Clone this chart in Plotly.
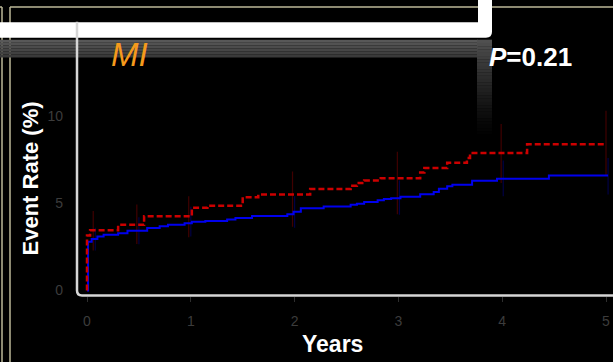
import plotly.graph_objects as go

W, H = 613, 362

# Kaplan-Meier style cumulative event rates (%), step times in years
red_t = [0, 0.0, 0.03, 0.30, 0.55, 1.01, 1.16, 1.50, 1.65, 2.15, 2.54, 2.60, 2.67,
         2.83, 3.21, 3.25, 3.47, 3.66, 3.69, 4.24, 5.0]
red_y = [0, 3.15, 3.46, 3.77, 4.26, 4.75, 4.86, 5.35, 5.50, 5.82, 6.01, 6.16, 6.31,
         6.44, 6.76, 7.02, 7.32, 7.59, 7.88, 8.38, 8.38]

blue_t = [0, 0.01, 0.045, 0.10, 0.16, 0.30, 0.39, 0.58, 0.70, 0.78, 0.94, 1.01, 1.14,
          1.35, 1.43, 1.59, 1.93, 1.99, 2.06, 2.28, 2.54, 2.60, 2.67, 2.80, 2.86,
          2.93, 3.02, 3.21, 3.34, 3.39, 3.47, 3.52, 3.71, 3.95, 4.45, 5.02]
blue_y = [0, 2.80, 2.96, 3.10, 3.20, 3.28, 3.43, 3.58, 3.69, 3.77, 3.86, 3.95, 3.99,
          4.07, 4.16, 4.27, 4.37, 4.52, 4.71, 4.82, 4.92, 4.97, 5.07, 5.18, 5.24,
          5.29, 5.38, 5.52, 5.65, 5.84, 5.97, 6.06, 6.29, 6.40, 6.59, 6.59]

# 95% confidence limits at yearly landmarks
red_ci_t = [0.06, 0.48, 0.98, 1.98, 2.99, 3.99, 5.0]
red_ci_lo = [2.30, 2.67, 3.05, 3.65, 4.37, 6.16, 6.60]
red_ci_hi = [4.56, 4.93, 5.40, 6.82, 7.95, 9.55, 10.3]

blue_ci_t = [0.08, 0.50, 1.00, 2.00, 3.01, 4.01, 5.02]
blue_ci_lo = [2.30, 2.65, 3.10, 3.60, 4.35, 5.40, 5.50]
blue_ci_hi = [3.60, 4.20, 4.80, 5.40, 6.30, 7.45, 7.60]

x_ticks = [0, 1, 2, 3, 4, 5]
y_ticks = [0, 5, 10]


def px(x):
    return x / W


def py(y):
    return 1 - y / H


fig = go.Figure()

# confidence bars
for t, lo, hi, col in [(red_ci_t, red_ci_lo, red_ci_hi, "#400000"),
                       (blue_ci_t, blue_ci_lo, blue_ci_hi, "#000044")]:
    fig.add_trace(go.Scatter(
        x=t, y=lo, mode="markers", marker=dict(size=1, opacity=0),
        error_y=dict(type="data", symmetric=False,
                     array=[h - l for h, l in zip(hi, lo)],
                     arrayminus=[0] * len(lo), thickness=1.2, width=0, color=col),
        hoverinfo="skip", showlegend=False))

fig.add_trace(go.Scatter(x=blue_t, y=blue_y, mode="lines", line_shape="hv",
                         line=dict(color="#0000ee", width=2), showlegend=False))
fig.add_trace(go.Scatter(x=red_t, y=red_y, mode="lines", line_shape="hv",
                         line=dict(color="#cc0000", width=2.5, dash="6px,3px"),
                         showlegend=False))

# axis geometry in pixels
x0_px, ppx = 87.0, 103.8
y0_px, ppy = 293.0, 17.6
left_px, bottom_px, top_px = 78, 298, 22

beige = "#bcb899"
P = dict(xref="paper", yref="paper")
shapes = [
    # slide frame lines
    dict(type="line", x0=px(2), x1=px(2), y0=py(7), y1=py(H + 5), line=dict(color=beige, width=1.5), **P),
    dict(type="line", x0=px(10), x1=px(10), y0=py(7), y1=py(H + 5), line=dict(color=beige, width=1.5), **P),
    dict(type="line", x0=px(10), x1=px(W), y0=py(7), y1=py(7), line=dict(color=beige, width=1.5), **P),
    dict(type="line", x0=px(0), x1=px(2), y0=py(7), y1=py(7), line=dict(color=beige, width=1.5), **P),
]
# grey header band, lighter at the top
for i in range(6):
    shade = int(88 - i * 6)
    shapes.append(dict(type="rect", x0=px(0), x1=px(478), y0=py(40 + i * 3), y1=py(43 + i * 3),
                       line_width=0, fillcolor=f"rgb({shade},{shade},{shade})", **P))
# fading grey side band
steps = 30
for i in range(steps):
    shade = int(80 * (1 - i / steps) ** 1.3)
    shapes.append(dict(type="rect", x0=px(477), x1=px(492), y0=py(40 + i * 3.3), y1=py(43.5 + i * 3.3),
                       line_width=0, fillcolor=f"rgb({shade},{shade},{shade})", **P))
# white header bar with rounded corner
path = (f"M {px(0)},{py(22.5)} L {px(478)},{py(22.5)} L {px(478)},{py(-2)} L {px(492)},{py(-2)} "
        f"L {px(492)},{py(32)} Q {px(492)},{py(38)} {px(486)},{py(38)} L {px(0)},{py(38)} Z")
shapes.append(dict(type="path", path=path, fillcolor="white", line_width=0, **P))
# plot frame (left + bottom)
frame = (f"M {px(77)},{py(22)} L {px(77)},{py(293)} Q {px(77)},{py(298)} {px(82)},{py(298)} "
         f"L {px(W + 5)},{py(298)}")
shapes.append(dict(type="path", path=frame, line=dict(color="#d6d6d6", width=2.5), **P))

annotations = [
    dict(text="MI", x=px(129), y=py(55), xref="paper", yref="paper", showarrow=False,
         font=dict(family="Arial, Liberation Sans", size=33, color="#f59a1c", style="italic"),
         xanchor="center", yanchor="middle"),
    dict(text="<b><i>P</i>=0.21</b>", x=px(530), y=py(57.5), xref="paper", yref="paper", showarrow=False,
         font=dict(family="Arial, Liberation Sans", size=26, color="white"),
         xanchor="center", yanchor="middle"),
    dict(text="<b>Event Rate (%)</b>", x=px(31), y=py(180), xref="paper", yref="paper", showarrow=False,
         textangle=-90, font=dict(family="Arial, Liberation Sans", size=22, color="white"),
         xanchor="center", yanchor="middle"),
    dict(text="<b>Years</b>", x=px(332), y=py(347), xref="paper", yref="paper", showarrow=False,
         font=dict(family="Arial, Liberation Sans", size=23, color="white"),
         xanchor="center", yanchor="middle"),
]

tickfont = dict(family="Arial, Liberation Sans", size=14, color="#3c3c3c")

fig.update_layout(
    width=W, height=H,
    margin=dict(l=0, r=0, t=0, b=0),
    paper_bgcolor="black", plot_bgcolor="black",
    xaxis=dict(domain=[px(left_px), 1.0],
               range=[(left_px - x0_px) / ppx, (W - x0_px) / ppx],
               tickvals=x_ticks, ticktext=[str(v) for v in x_ticks],
               showgrid=False, zeroline=False, showline=False,
               ticks="outside", ticklen=5, tickcolor="#2e2e2e", tickwidth=1,
               tickfont=tickfont, ticklabelstandoff=8),
    yaxis=dict(domain=[py(bottom_px), py(top_px)],
               range=[(y0_px - bottom_px) / ppy, (y0_px - top_px) / ppy],
               tickvals=y_ticks, ticktext=[str(v) for v in y_ticks],
               showgrid=False, zeroline=False, showline=False, ticks="",
               tickfont=tickfont, ticklabelstandoff=14),
    shapes=shapes,
    annotations=annotations,
)

fig.write_html("out.html")
